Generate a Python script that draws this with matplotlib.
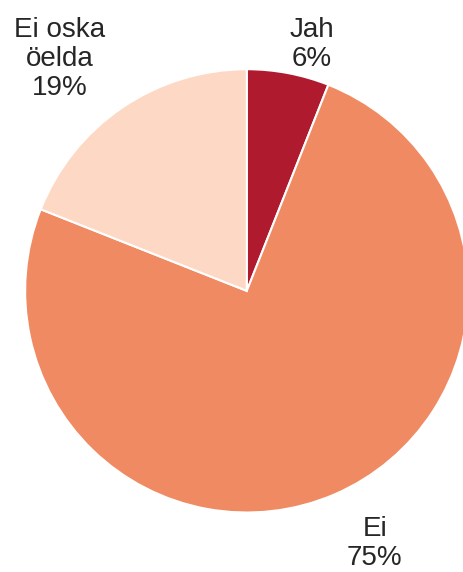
import matplotlib.pyplot as plt

labels = ["Jah", "Ei", "Ei oska\nöelda"]
values = [6, 75, 19]
colors = ["#B01A2E", "#F08A62", "#FDD9C5"]

plt.rcParams['font.family'] = ['Liberation Sans', 'DejaVu Sans']

fig = plt.figure(figsize=(4.63, 5.72), dpi=100)
ax = fig.add_axes([0.0540, 0.1040, 0.958, 0.775])

wedges, _ = ax.pie(values, colors=colors, startangle=90, counterclock=False,
                   radius=1, wedgeprops=dict(edgecolor="white", linewidth=1.5))
ax.set_xlim(-1, 1)
ax.set_ylim(-1, 1)
ax.set_aspect("equal")

# label positions in data units (pie radius = 1)
label_pos = [(0.293, 1.113), (0.577, -1.140), (-0.845, 1.045)]
for lab, val, (x, y) in zip(labels, values, label_pos):
    ax.text(x, y, f"{lab}\n{val}%", ha="center", va="center", fontsize=20,
            color="#262626", linespacing=1.15, clip_on=False)

fig.savefig("out.png", dpi=100)
